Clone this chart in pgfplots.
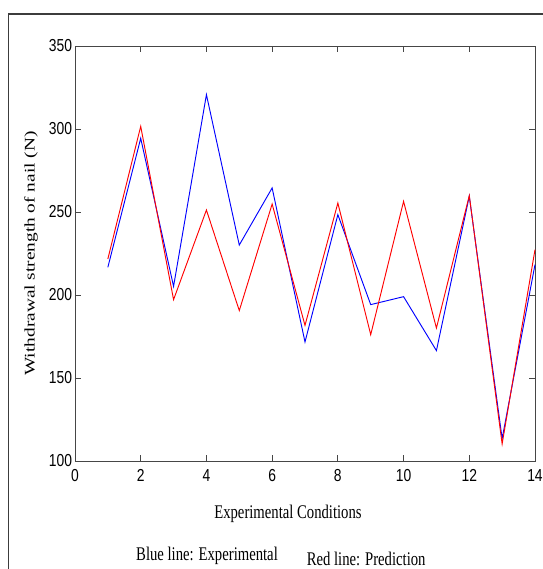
\documentclass[border=0pt]{standalone}
\usepackage{pgfplots}
\pgfplotsset{compat=1.18}
\usepackage{fontspec}
\setmainfont{Liberation Serif}
\newfontfamily\arial{Liberation Sans}

\definecolor{axgray}{RGB}{70,70,70}
\definecolor{frame}{RGB}{60,60,60}

\pgfplotstableread{
x  exp    pred
1  216.7  221.7
2  294.4  301.6
3  205.2  197.2
4  320.7  251.2
5  230.1  190.6
6  264.5  254.8
7  171.7  181.7
8  248.4  255.4
9  194.2  176.1
10 199.0  256.4
11 166.5  180.1
12 259.5  259.9
13 113.5  110.3
14 218.3  227.3
}\nail

% the original picture is squeezed sideways
\newcommand{\narrow}[1]{\scalebox{0.76}[1]{#1}}

\begin{document}
\begin{tikzpicture}
% page = 543 x 569 px at 0.75pt per px
\useasboundingbox (-56.25pt,-81pt) rectangle (351pt,345.75pt);
\draw[frame, line width=0.8pt] (-49.75pt,-81pt) -- (-49.75pt,335.25pt) -- (351pt,335.25pt);
\begin{axis}[
  at={(0,0)}, anchor=south west,
  scale only axis,
  width=345pt, height=311.25pt,
  xmin=0, xmax=14, ymin=100, ymax=350,
  xtick={0,2,...,14},
  ytick={100,150,...,350},
  tick align=inside,
  major tick length=4.5pt,
  axis line style={axgray, line width=0.6pt},
  tick style={axgray, line width=0.6pt},
  ticklabel style={font=\arial\fontsize{13}{14}\selectfont, text=black},
  xticklabel={\scalebox{0.8}[1]{\pgfmathprintnumber[assume math mode=true]{\tick}}},
  yticklabel={\scalebox{0.8}[1]{\pgfmathprintnumber[assume math mode=true]{\tick}}},
  xticklabel style={inner sep=2pt, yshift=-4pt},
  yticklabel style={inner sep=2pt},
  xlabel={\narrow{Experimental Conditions}},
  ylabel={\scalebox{1}[0.76]{Withdrawal strength of nail (N)}},
  label style={font=\fontsize{14.5}{16}\selectfont},
  xlabel style={at={(axis description cs:0.463,-0.128)}, anchor=center},
  ylabel style={at={(axis description cs:0,0.5)}, anchor=center, yshift=33pt},
  clip=false,
]
\addplot[blue, line width=0.7pt] table[x=x, y=exp] {\nail};
\addplot[red, line width=0.7pt] table[x=x, y=pred] {\nail};
\node[font=\fontsize{14.5}{16}\selectfont] at (axis description cs:0.287,-0.228) {\narrow{Blue line: Experimental}};
\node[font=\fontsize{14.5}{16}\selectfont] at (axis description cs:0.633,-0.236) {\narrow{Red line: Prediction}};
\end{axis}
\end{tikzpicture}
\end{document}
